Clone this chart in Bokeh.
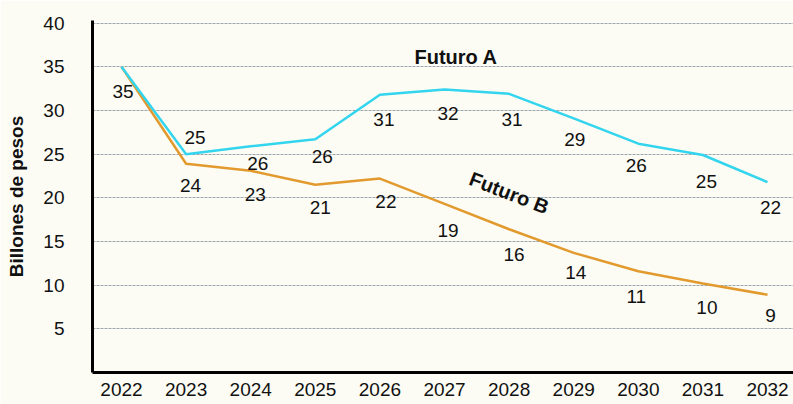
from bokeh.plotting import figure
from bokeh.models import Range1d, FixedTicker, Label, ColumnDataSource
from bokeh.core.properties import value
from bokeh.embed import file_html
from bokeh.resources import INLINE

# ---- data ----
years = [2022, 2023, 2024, 2025, 2026, 2027, 2028, 2029, 2030, 2031, 2032]
futuro_a = [35.0, 25.0, 25.9, 26.7, 31.8, 32.4, 31.9, 29.1, 26.2, 24.9, 21.8]
futuro_b = [35.0, 23.9, 23.1, 21.5, 22.2, 19.3, 16.4, 13.7, 11.6, 10.2, 8.9]
labels_a = ["35", "25", "26", "26", "31", "32", "31", "29", "26", "25", "22"]
labels_b = ["", "24", "23", "21", "22", "19", "16", "14", "11", "10", "9"]
y_ticks = [5, 10, 15, 20, 25, 30, 35, 40]

# label placement (screen px, style only)
a_dx = [1.5, 9, 7, 7, 4, 3.5, 3, 1, -2, 3.5, 3]
a_dy = [25, -17, 17, 17, 25, 24, 25.5, 21, 22, 26, 25]
b_dx = [0, 4.5, 4.5, 5, 6, 3.5, 5, 2, -2, 4, 3]
b_dy = [0, 22, 24, 22.5, 22.5, 26.5, 25, 19.5, 25, 24, 21]

FONT = "Liberation Sans"
BG = "#fcfcf4"
CYAN = "#33d5ee"
ORANGE = "#e29a2e"

p = figure(width=793, height=404,
           x_range=Range1d(2021.551, 2032.402), y_range=Range1d(0, 40.3),
           output_backend="svg", toolbar_location=None,
           min_border_left=92, min_border_right=0, min_border_top=20, min_border_bottom=32)

p.background_fill_color = BG
p.border_fill_color = BG
p.outline_line_color = None

# grid
p.xgrid.visible = False
p.ygrid.ticker = FixedTicker(ticks=y_ticks)
p.ygrid.grid_line_color = "#8f9ba4"
p.ygrid.grid_line_width = 1
p.ygrid.grid_line_dash = "3 1"
p.ygrid.grid_line_alpha = 0.9

# axes
for ax in (p.xaxis[0], p.yaxis[0]):
    ax.axis_line_color = "black"
    ax.axis_line_width = 3
    ax.major_tick_out = 0
    ax.major_tick_in = 0
    ax.minor_tick_out = 0
    ax.minor_tick_in = 0
    ax.major_label_text_font = FONT
    ax.major_label_text_font_size = "19px"
    ax.major_label_text_color = "#111111"

p.xaxis.ticker = FixedTicker(ticks=years)
p.xaxis.major_label_standoff = 10
p.yaxis.ticker = FixedTicker(ticks=y_ticks)
p.yaxis.major_label_standoff = 28
p.yaxis.axis_label = "Billones de pesos"
p.yaxis.axis_label_text_font = FONT
p.yaxis.axis_label_text_font_style = "bold"
p.yaxis.axis_label_text_font_size = "19px"
p.yaxis.axis_label_text_color = "#111111"
p.yaxis.axis_label_standoff = 13

# lines
p.line(years, futuro_b, line_color=ORANGE, line_width=2.5)
p.line(years, futuro_a, line_color=CYAN, line_width=2.5)

# value labels
src_a = ColumnDataSource(dict(x=years, y=futuro_a, t=labels_a, dx=a_dx, dy=a_dy))
src_b = ColumnDataSource(dict(x=years, y=futuro_b, t=labels_b, dx=b_dx, dy=b_dy))
for src in (src_a, src_b):
    p.text(x="x", y="y", text="t", x_offset="dx", y_offset="dy", source=src,
           text_font=value(FONT), text_font_size="19px", text_color="#111111",
           text_align="center", text_baseline="middle")

# series names
p.add_layout(Label(x=2027.18, y=36.15, text="Futuro A", text_font=FONT,
                   text_font_style="bold", text_font_size="20px", text_color="#111111",
                   text_align="center", text_baseline="middle"))
p.add_layout(Label(x=2028.0, y=20.57, text="Futuro B", text_font=FONT, angle=-0.37,
                   text_font_style="bold", text_font_size="20px", text_color="#111111",
                   text_align="center", text_baseline="middle"))

open("out.html", "w").write(file_html(p, INLINE))
